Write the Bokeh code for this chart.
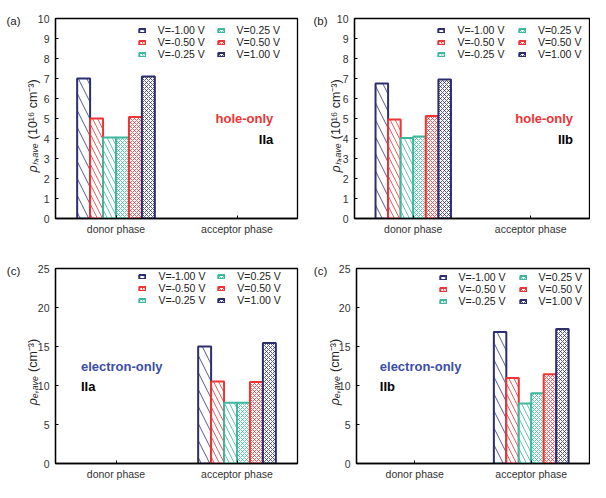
import math
from bokeh.plotting import figure
from bokeh.models import (FactorRange, Range1d, ColumnDataSource, Legend, LegendItem,
                          Label, FixedTicker)
from bokeh.transform import dodge
from bokeh.layouts import column, row
from bokeh.embed import file_html
from bokeh.resources import INLINE

# ---------------- data ----------------
categories = ["donor phase", "acceptor phase"]
voltages = ["V=-1.00 V", "V=-0.50 V", "V=-0.25 V", "V=0.25 V", "V=0.50 V", "V=1.00 V"]
hole_IIa_donor = [7.0, 5.0, 4.05, 4.05, 5.07, 7.1]
hole_IIb_donor = [6.75, 4.95, 4.03, 4.1, 5.13, 6.95]
electron_IIa_acceptor = [15.0, 10.5, 7.8, 7.8, 10.45, 15.45]
electron_IIb_acceptor = [16.85, 10.95, 7.7, 9.0, 11.45, 17.25]
hole_ticks = [0, 1, 2, 3, 4, 5, 6, 7, 8, 9, 10]
electron_ticks = [0, 5, 10, 15, 20, 25]
hole_symbol = "ρₕ,ₐᵥₑ"
hole_unit = "(10¹⁶ cm⁻³)"
elec_symbol = "ρₑ,ₐᵥₑ"
elec_unit = "(cm⁻³)"

# ---------------- style ----------------
NAVY = "#2c2e6e"
RED = "#ee3434"
TEAL = "#3db89c"
BLUE = "#3c4ea6"
FONT = "Liberation Sans"
colors = [NAVY, RED, TEAL, TEAL, RED, NAVY]
hatches = ["\\", "\\", "\\", "x", "x", "x"]
hatch_scales = [17, 10, 10, 4, 4, 4]
BW = 0.107


def make_panel(values, phase, ymax, ticks, symbol, unit, title_x, title_y, tag, tag_off,
               note, note_color, sample, note_x, note_y, sample_y, align,
               leg_x1, leg_x2, leg_y, width, height, bl, br, bt, bb):
    p = figure(x_range=FactorRange(factors=categories, range_padding=0),
               y_range=Range1d(0, ymax), width=width, height=height,
               output_backend="svg", toolbar_location=None, title=None,
               min_border_left=bl, min_border_right=br,
               min_border_top=bt, min_border_bottom=bb)
    p.xgrid.visible = False
    p.ygrid.visible = False
    p.outline_line_color = "black"
    p.outline_line_width = 1.3
    p.outline_line_alpha = 1
    p.axis.axis_line_width = 1.3
    p.axis.axis_line_color = "black"
    p.axis.major_label_text_font = FONT
    p.axis.major_label_text_font_size = "10.5px"
    p.axis.major_label_text_color = "#333333"
    p.axis.major_tick_in = 3
    p.axis.major_tick_out = 0
    p.axis.minor_tick_line_color = None
    p.axis.major_tick_line_color = "black"
    p.xaxis.major_label_standoff = 4
    p.yaxis.major_label_standoff = 6
    p.yaxis.ticker = FixedTicker(ticks=ticks)

    renderers = []
    for i in range(len(voltages)):
        src = ColumnDataSource(dict(phase=[phase], value=[values[i]]))
        r = p.vbar(x=dodge("phase", (i - 2.5) * BW, range=p.x_range), top="value",
                   width=BW, source=src, fill_color="white", line_color=colors[i],
                   line_width=2, hatch_pattern=hatches[i], hatch_color=colors[i],
                   hatch_scale=hatch_scales[i], hatch_weight=0.8)
        renderers.append(r)

    common = dict(glyph_width=8, glyph_height=5,
                  label_standoff=12, label_text_font=FONT,
                  label_text_font_size="10.5px", label_text_color="#222222",
                  spacing=0, padding=0, margin=0, border_line_color=None,
                  background_fill_alpha=0, label_height=0)
    leg1 = Legend(items=[LegendItem(label=voltages[i], renderers=[renderers[i]]) for i in range(3)],
                  location=(leg_x1, leg_y), **common)
    leg2 = Legend(items=[LegendItem(label=voltages[i], renderers=[renderers[i]]) for i in range(3, 6)],
                  location=(leg_x2, leg_y), **common)
    p.add_layout(leg1, "center")
    p.add_layout(leg2, "center")

    p.add_layout(Label(x=note_x, y=note_y, text=note, text_color=note_color,
                       text_font=FONT, text_font_style="bold", text_font_size="13px",
                       text_align=align, text_baseline="middle"))
    p.add_layout(Label(x=note_x, y=sample_y, text=sample, text_color="black",
                       text_font=FONT, text_font_style="bold", text_font_size="13px",
                       text_align=align, text_baseline="middle"))

    # panel tag, level with the top tick label, left of the axis
    p.add_layout(Label(x=0, y=ymax, x_offset=tag_off, y_offset=-2, text=tag,
                       text_font=FONT, text_font_size="11.5px", text_color="#222222",
                       text_align="center", text_baseline="middle"), "above")

    # y-axis title: italic symbol + upright unit, rotated, sharing one baseline
    p.add_layout(Label(x=0, y=ymax / 2.0, x_offset=title_x, y_offset=title_y - 2,
                       text=symbol, angle=math.pi / 2, text_font=FONT,
                       text_font_size="12.5px", text_font_style="italic",
                       text_color="#222222", text_align="right",
                       text_baseline="alphabetic"), "left")
    p.add_layout(Label(x=0, y=ymax / 2.0, x_offset=title_x, y_offset=title_y + 2,
                       text=unit, angle=math.pi / 2, text_font=FONT,
                       text_font_size="12.5px", text_font_style="normal",
                       text_color="#222222", text_align="left",
                       text_baseline="alphabetic"), "left")
    return p


pa = make_panel(hole_IIa_donor, "donor phase", 10, hole_ticks, hole_symbol, hole_unit, -22.4, -22.7,
                "(a)", -42.0, "hole-only", RED, "IIa", 1.80, 5.0, 3.95, "right",
                82.8, 161.6, 157.6, 302, 241, 55, 5, 18, 23)
pb = make_panel(hole_IIb_donor, "donor phase", 10, hole_ticks, hole_symbol, hole_unit, -18.5, -22.7,
                "(b)", -34.0, "hole-only", RED, "IIb", 1.86, 5.0, 3.95, "right",
                83.4, 163.9, 157.6, 288, 241, 52, 1, 18, 23)
pc = make_panel(electron_IIa_acceptor, "acceptor phase", 25, electron_ticks, elec_symbol, elec_unit, -22.4, -8.0,
                "(c)", -42.0, "electron-only", BLUE, "IIa", 0.21, 12.4, 9.9, "left",
                83.4, 162.3, 156.9, 302, 241, 55, 5, 27, 15)
pd = make_panel(electron_IIb_acceptor, "acceptor phase", 25, electron_ticks, elec_symbol, elec_unit, -21.4, -8.0,
                "(c)", -36.0, "electron-only", BLUE, "IIb", 0.20, 12.4, 9.9, "left",
                82.5, 162.6, 155.9, 288, 241, 54, 1, 27, 15)

layout = column(row(pa, pb), row(pc, pd))
open("out.html", "w").write(file_html(layout, INLINE))
